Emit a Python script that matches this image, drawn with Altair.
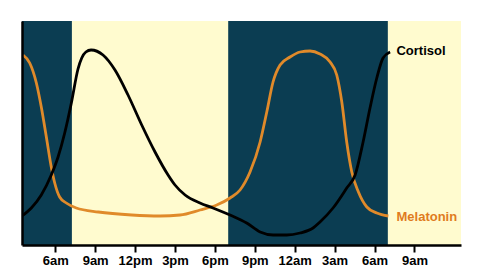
import altair as alt
import pandas as pd

# Hours since midnight of day 1 (24+ = next day)
cortisol_hours = [3.5, 4.2, 4.95, 5.7, 6.21, 6.71, 7.21, 7.71, 7.99, 8.3, 8.69, 9.59,
                  10.49, 11.47, 12.5, 13.5, 14.48, 15.0, 15.76, 16.88, 17.86, 19.14,
                  20.39, 21.4, 22.37, 23.4, 24.4, 25.38, 25.9, 26.88, 27.91, 28.54,
                  29.14, 29.66, 30.17, 30.64, 31.17]
cortisol_level = [29, 37, 50, 70, 88, 112, 142, 176, 187, 193, 195, 190,
                  175, 150, 120, 93, 70, 60, 50, 42, 37, 30,
                  22, 13, 10, 10, 12, 17, 23, 37, 57, 70,
                  103, 137, 167, 187, 193]

melatonin_hours = [3.58, 4.08, 4.58, 4.95, 5.33, 5.7, 5.96, 6.33, 6.83, 7.58, 9.24,
                   11.75, 13.88, 15.38, 16.88, 18.14, 19.14, 19.89, 20.64, 21.4, 21.9,
                   22.37, 22.9, 23.65, 24.4, 25.15, 25.9, 26.66, 27.16, 27.54, 27.91,
                   28.29, 28.79, 29.42, 30.17, 31.04]
melatonin_level = [190, 182, 162, 138, 108, 78, 62, 48, 42, 37, 33,
                   30, 29, 30, 35, 40, 47, 55, 73, 103, 133,
                   163, 180, 188, 193, 194, 191, 183, 170, 143, 103,
                   73, 53, 38, 32, 29]

dark_start = [3.5, 19.0]
dark_end = [7.25, 31.0]

tick_hours = [6, 9, 12, 15, 18, 21, 24, 27, 30, 33]
tick_labels = ["6am", "9am", "12pm", "3pm", "6pm", "9pm", "12am", "3am", "6am", "9am"]

series_names = ["Cortisol", "Melatonin"]
label_hour = [31.65, 31.65]
label_level = [194, 28]

X_DOMAIN = [3.5, 36.5]
Y_DOMAIN = [0, 224]
DARK = "#0B3D52"
LIGHT = "#FFFBCF"
ORANGE = "#E08A2A"
LABEL_ORANGE = "#E07B1E"
FONT = "Liberation Sans"

cort = pd.DataFrame({"hour": cortisol_hours, "level": cortisol_level})
mel = pd.DataFrame({"hour": melatonin_hours, "level": melatonin_level})
bands = pd.DataFrame({"start": dark_start, "end": dark_end})
labels = pd.DataFrame({"name": series_names, "hour": label_hour, "level": label_level})

label_map = "{" + ",".join(f"'{h}':'{l}'" for h, l in zip(tick_hours, tick_labels)) + "}"

xscale = alt.Scale(domain=X_DOMAIN, nice=False, zero=False)
yscale = alt.Scale(domain=Y_DOMAIN, nice=False, zero=False)

xaxis = alt.Axis(values=tick_hours, labelExpr=f"{label_map}[datum.value]", title=None,
                 grid=False, domainColor="black", domainWidth=2.5, tickColor="black",
                 tickWidth=2, tickSize=7, labelFont=FONT, labelFontSize=13,
                 labelFontWeight="bold", labelColor="black", labelPadding=2, zindex=1)
yaxis = alt.Axis(title=None, labels=False, ticks=False, grid=False,
                 domainColor="black", domainWidth=2.5, zindex=1)

band_chart = alt.Chart(bands).mark_rect(color=DARK).encode(
    x=alt.X("start:Q", scale=xscale, axis=xaxis),
    x2="end:Q",
    y=alt.value(0),
    y2=alt.value(224),
)

cort_line = alt.Chart(cort).mark_line(color="black", strokeWidth=2.8,
                                      interpolate="monotone", clip=True).encode(
    x=alt.X("hour:Q", scale=xscale),
    y=alt.Y("level:Q", scale=yscale, axis=yaxis),
)

mel_line = alt.Chart(mel).mark_line(color=ORANGE, strokeWidth=2.8,
                                    interpolate="monotone", clip=True).encode(
    x=alt.X("hour:Q", scale=xscale),
    y=alt.Y("level:Q", scale=yscale),
)

text = alt.Chart(labels).mark_text(align="left", baseline="middle", font=FONT,
                                   fontSize=13, fontWeight="bold").encode(
    x=alt.X("hour:Q", scale=xscale),
    y=alt.Y("level:Q", scale=yscale),
    text="name:N",
    color=alt.Color("name:N", scale=alt.Scale(domain=series_names,
                                              range=["black", LABEL_ORANGE]),
                    legend=None),
)

chart = alt.layer(band_chart, mel_line, cort_line, text).properties(
    width=439, height=224,
    padding={"left": 22, "top": 21, "right": 18, "bottom": 32},
    autosize=alt.AutoSizeParams(type="none"),
    background="white",
).configure_view(fill=LIGHT, stroke=None)

chart.save("out.html", embed_options={"renderer": "svg", "actions": False})
